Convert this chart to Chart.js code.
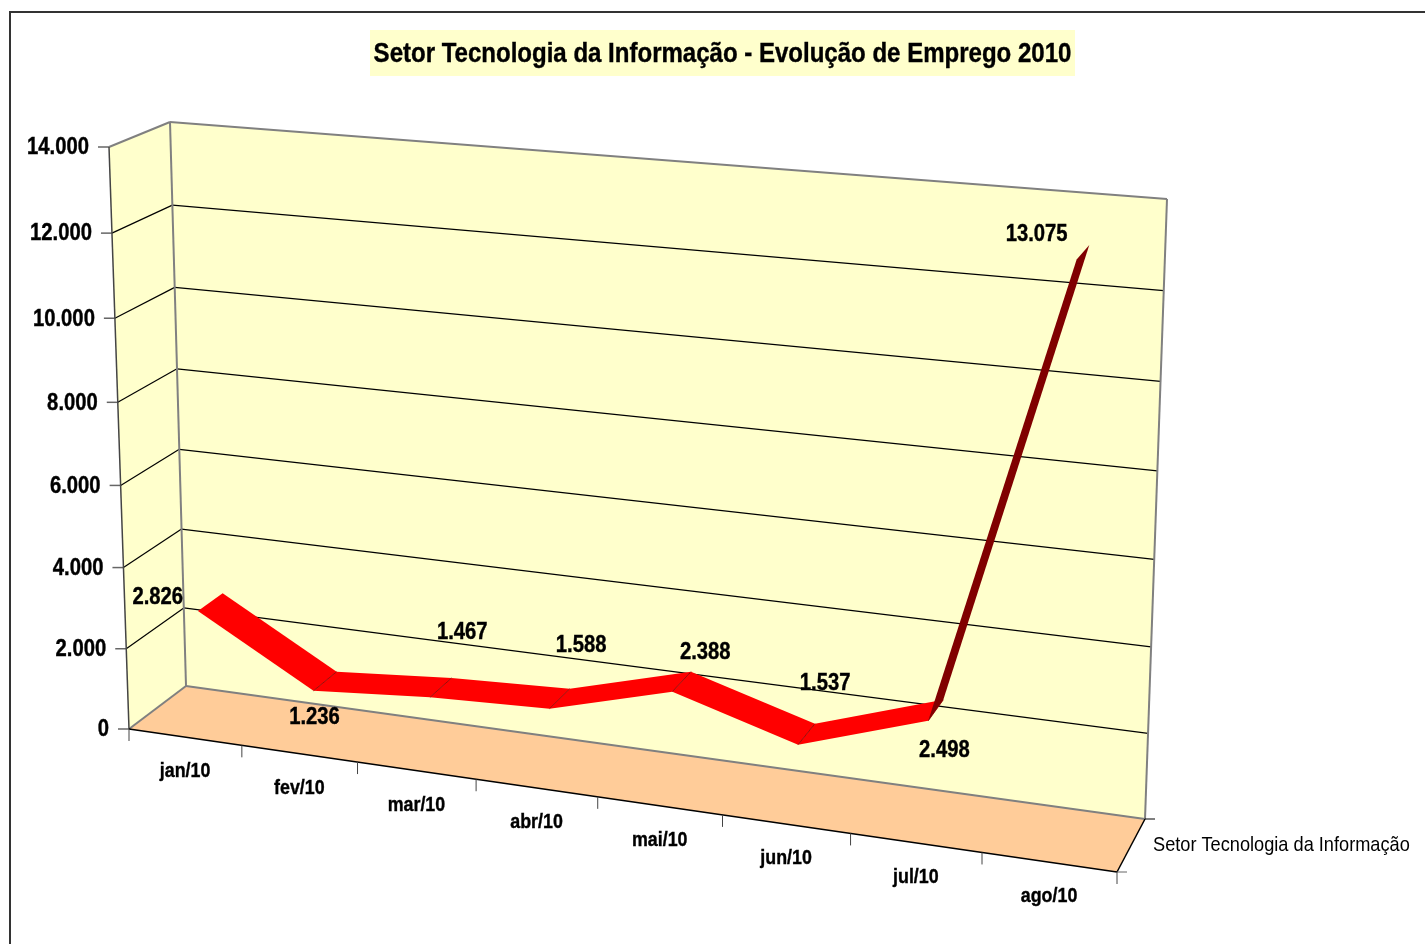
<!DOCTYPE html>
<html lang="pt">
<head>
<meta charset="utf-8">
<title>Setor Tecnologia da Informação</title>
<script src="https://cdn.jsdelivr.net/npm/chart.js@4"></script>
<style>
  html, body { margin: 0; padding: 0; background: #fff; overflow: hidden; }
  canvas { display: block; }
</style>
</head>
<body>
<canvas id="chart-area" width="1425" height="944"></canvas>
<script>
/*global Chart*/
var chartTitle = "Setor Tecnologia da Informação - Evolução de Emprego 2010";
var seriesName = "Setor Tecnologia da Informação";
var categories = ["jan/10", "fev/10", "mar/10", "abr/10", "mai/10", "jun/10", "jul/10", "ago/10"];
var empregos = [2826, 1236, 1467, 1588, 2388, 1537, 2498, 13075];
var yMax = 14000;
var yStep = 2000;

// where each data label was dragged to, relative to its point on the ribbon
var labelOffsets = [[-52, -5], [-10, 36], [22, -55], [22, -54], [24, -29], [19, -51], [9, 40], [-46, -18]];

// corners of the 3D box on the page: bottom-left, bottom-right, top-right, top-left
var frontQuad = [[129, 729], [1117, 872], [1141, 231], [109, 147]];
var backQuad = [[186, 686], [1145, 819], [1167, 199], [170, 122]];
var ribbonDepth = [0.29, 0.73];

var FONT = '"Liberation Sans", Arial, sans-serif';

var quadMap = function(q) {
  var dx1 = q[1][0] - q[2][0], dx2 = q[3][0] - q[2][0], sx = q[0][0] - q[1][0] + q[2][0] - q[3][0];
  var dy1 = q[1][1] - q[2][1], dy2 = q[3][1] - q[2][1], sy = q[0][1] - q[1][1] + q[2][1] - q[3][1];
  var den = dx1 * dy2 - dx2 * dy1;
  var g = (sx * dy2 - dx2 * sy) / den;
  var h = (dx1 * sy - sx * dy1) / den;
  var a = q[1][0] - q[0][0] + g * q[1][0];
  var b = q[3][0] - q[0][0] + h * q[3][0];
  var d = q[1][1] - q[0][1] + g * q[1][1];
  var e = q[3][1] - q[0][1] + h * q[3][1];
  return function(u, v) {
    var k = g * u + h * v + 1;
    return [(a * u + b * v + q[0][0]) / k, (d * u + e * v + q[0][1]) / k];
  };
};
var frontMap = quadMap(frontQuad);
var backMap = quadMap(backQuad);

// category index + value + depth (0 front, 1 back) -> page position, through the chart's scales
var project = function(chart, index, value, depth) {
  var area = chart.chartArea;
  var u = (chart.scales.x.getPixelForValue(index) - area.left) / (area.right - area.left);
  var v = (area.bottom - chart.scales.y.getPixelForValue(value)) / (area.bottom - area.top);
  var f = frontMap(u, v), b = backMap(u, v);
  return [f[0] + (b[0] - f[0]) * depth, f[1] + (b[1] - f[1]) * depth];
};

var fillPoly = function(ctx, pts, color) {
  ctx.beginPath();
  pts.forEach(function(p, i) {
    if (i === 0) ctx.moveTo(p[0], p[1]); else ctx.lineTo(p[0], p[1]);
  });
  ctx.closePath();
  ctx.fillStyle = color;
  ctx.fill();
};
var line = function(ctx, a, b, color, width) {
  ctx.beginPath();
  ctx.moveTo(a[0], a[1]);
  ctx.lineTo(b[0], b[1]);
  ctx.strokeStyle = color;
  ctx.lineWidth = width;
  ctx.stroke();
};
// the reference text is narrower than the font, so squeeze it a little
var text = function(ctx, str, x, y, font, align, squeeze, heavy) {
  ctx.font = font;
  ctx.textAlign = align;
  ctx.textBaseline = "middle";
  ctx.fillStyle = "#000";
  var w = ctx.measureText(str).width * squeeze;
  ctx.fillText(str, x, y, w);
  if (heavy) {
    ctx.strokeStyle = "#000";
    ctx.lineWidth = 0.4;
    ctx.strokeText(str, x, y, w);
  }
};
var formatValue = function(value) {
  return String(value).replace(/\B(?=(\d{3})+$)/g, ".");
};

var box3d = {
  id: "box3d",
  beforeDatasetsDraw: function(chart) {
    var ctx = chart.ctx;
    var n = categories.length;
    var xs = chart.scales.x, ys = chart.scales.y;
    var first = xs.min - 0.5, last = xs.max + 0.5;
    ctx.save();
    ctx.lineCap = "butt";

    // outer frame runs off the right and the bottom of the picture
    ctx.strokeStyle = "#333";
    ctx.lineWidth = 2;
    ctx.strokeRect(10, 12, 1600, 1200);

    // title
    ctx.fillStyle = "#FFFFCC";
    ctx.fillRect(370, 30, 705, 46);
    text(ctx, chartTitle, 722.5, 54, "bold 28px " + FONT, "center", 0.858, true);

    // walls and floor
    var a0 = project(chart, first, 0, 0), b0 = project(chart, last, 0, 0);
    var a1 = project(chart, first, 0, 1), b1 = project(chart, last, 0, 1);
    var t0 = project(chart, first, yMax, 0);
    var t1 = project(chart, first, yMax, 1), t2 = project(chart, last, yMax, 1);
    fillPoly(ctx, [a1, b1, t2, t1], "#FFFFCC");
    fillPoly(ctx, [a0, a1, t1, t0], "#FFFFCC");
    fillPoly(ctx, [a0, b0, b1, a1], "#FFCC99");

    // value axis: gridlines, ticks and labels from the scale's own ticks
    ys.ticks.forEach(function(tick) {
      var f = project(chart, first, tick.value, 0);
      var m = project(chart, first, tick.value, 1);
      var r = project(chart, last, tick.value, 1);
      if (tick.value > 0 && tick.value < yMax) {
        line(ctx, f, m, "#000", 1.2);
        line(ctx, m, r, "#000", 1.2);
      }
      line(ctx, [f[0] - 11, f[1]], f, "#666", 1.5);
      text(ctx, formatValue(tick.value), f[0] - 20, f[1] + 1, "bold 23px " + FONT, "right", 0.88, true);
    });

    // box edges
    line(ctx, t0, t1, "#808080", 2);
    line(ctx, t1, t2, "#808080", 2);
    line(ctx, t1, a1, "#808080", 2);
    line(ctx, t2, b1, "#808080", 2);
    line(ctx, a0, a1, "#808080", 2);
    line(ctx, a1, b1, "#808080", 2);
    line(ctx, t0, a0, "#444", 1.5);
    line(ctx, a0, b0, "#000", 1.5);
    line(ctx, b0, b1, "#000", 1.5);
    line(ctx, b1, [b1[0] + 10, b1[1]], "#000", 1);
    line(ctx, b0, [b0[0] + 10, b0[1]], "#666", 1);

    // category axis: tick at each band edge, label at band middle
    for (var i = 0; i <= n; i++) {
      var p = project(chart, i - 0.5, 0, 0);
      line(ctx, p, [p[0], p[1] + 12], "#444", 1);
    }
    categories.forEach(function(cat, i) {
      var p = project(chart, i, 0, 0);
      text(ctx, cat, p[0], p[1] + 34.5, "bold 21px " + FONT, "center", 0.85, true);
    });

    // series axis label
    text(ctx, seriesName, 1153, 845, "21px " + FONT, "left", 0.866);

    // ribbon, one flat piece per segment; undersides go dark
    var d0 = ribbonDepth[0], d1 = ribbonDepth[1];
    for (var s = 0; s < n - 1; s++) {
      var p1 = project(chart, s, empregos[s], d0);
      var p2 = project(chart, s, empregos[s], d1);
      var p3 = project(chart, s + 1, empregos[s + 1], d1);
      var p4 = project(chart, s + 1, empregos[s + 1], d0);
      var area = (p3[0] - p1[0]) * (p4[1] - p2[1]) - (p4[0] - p2[0]) * (p3[1] - p1[1]);
      fillPoly(ctx, [p1, p2, p3, p4], area > 0 ? "#FF0000" : "#800000");
      if (s > 0) line(ctx, p1, p2, "#800000", 0.8);
    }

    // data labels
    empregos.forEach(function(value, i) {
      var p = project(chart, i, value, 0.5);
      text(ctx, formatValue(value), p[0] + labelOffsets[i][0], p[1] + labelOffsets[i][1], "bold 23px " + FONT, "center", 0.88, true);
    });
    ctx.restore();
  }
};

var chart = new Chart(document.getElementById("chart-area").getContext("2d"), {
  type: "line",
  data: {
    labels: categories,
    datasets: [{
      label: seriesName,
      data: empregos,
      showLine: false,
      pointRadius: 0,
      borderColor: "#FF0000",
      backgroundColor: "#FF0000"
    }]
  },
  options: {
    responsive: false,
    animation: false,
    plugins: {
      legend: { display: false },
      title: { display: false },
      tooltip: { enabled: false }
    },
    scales: {
      x: { type: "category", offset: true, display: false },
      y: { min: 0, max: yMax, ticks: { stepSize: yStep }, display: false }
    }
  },
  plugins: [box3d]
});
</script>
</body>
</html>
